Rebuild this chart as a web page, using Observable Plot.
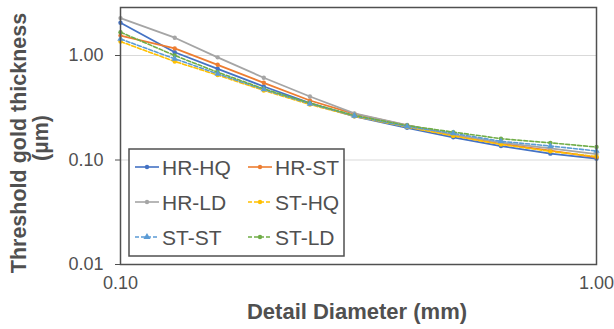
<!DOCTYPE html>
<html>
<head>
<meta charset="utf-8">
<script src="https://cdn.jsdelivr.net/npm/d3@7"></script>
<script src="https://cdn.jsdelivr.net/npm/@observablehq/plot@0.6"></script>
<style>
  body { margin: 0; background: #fff; }
  #chart { width: 614px; height: 329px; }
</style>
</head>
<body>
<div id="chart"></div>
<script>
// ---- data ----
const diameters = [0.10, 0.13, 0.16, 0.20, 0.25, 0.31, 0.40, 0.50, 0.63, 0.80, 1.00];
const seriesNames = ["HR-HQ", "HR-ST", "HR-LD", "ST-HQ", "ST-ST", "ST-LD"];
const hrHQ = [2.06, 1.075, 0.746, 0.505, 0.350, 0.262, 0.203, 0.165, 0.136, 0.115, 0.103];
const hrST = [1.55, 1.17, 0.815, 0.548, 0.371, 0.276, 0.214, 0.172, 0.143, 0.123, 0.106];
const hrLD = [2.28, 1.48, 0.96, 0.612, 0.405, 0.279, 0.216, 0.175, 0.147, 0.129, 0.114];
const stHQ = [1.36, 0.877, 0.65, 0.463, 0.340, 0.262, 0.207, 0.170, 0.141, 0.121, 0.108];
const stST = [1.44, 0.93, 0.668, 0.473, 0.345, 0.265, 0.209, 0.180, 0.151, 0.136, 0.122];
const stLD = [1.67, 1.00, 0.692, 0.480, 0.350, 0.267, 0.214, 0.185, 0.160, 0.146, 0.133];
const xTicks = [0.1, 1];
const yTicks = [0.01, 0.1, 1];
const xTitle = "Detail Diameter (mm)";
const yTitle = ["Threshold gold thickness", "(µm)"];

const colors = ["#4472C4", "#ED7D31", "#A5A5A5", "#FFC000", "#5B9BD5", "#70AD47"];
const dashed = [false, false, false, true, true, true];
const symbols = ["circle", "circle", "circle", "circle", "triangle", "circle"];
const allValues = [hrHQ, hrST, hrLD, stHQ, stST, stLD];

const rows = [];
seriesNames.forEach((s, i) => {
  diameters.forEach((d, j) => rows.push({series: s, d, v: allValues[i][j], dashed: dashed[i]}));
});

const textColor = "#505050";
const color = {domain: seriesNames, range: colors};

const plot = Plot.plot({
  width: 614,
  height: 329,
  marginLeft: 120,
  marginRight: 18,
  marginTop: 7,
  marginBottom: 65,
  style: {fontFamily: "'Liberation Sans', Arial, sans-serif", fontSize: "18px", color: textColor, background: "#fff"},
  x: {type: "log", domain: [0.1, 1]},
  y: {type: "log", domain: [0.01, 2.88]},
  color,
  marks: [
    Plot.gridY(yTicks.slice(1), {stroke: "#d9d9d9", strokeOpacity: 1, strokeWidth: 1}),
    Plot.axisY(yTicks, {tickFormat: d3.format(".2f"), tickSize: 5, tickPadding: 12, stroke: textColor, fill: textColor, label: null, fontSize: 18}),
    Plot.axisX(xTicks, {tickFormat: d3.format(".2f"), tickSize: 0, tickPadding: 12, fill: textColor, label: null, fontSize: 18}),
    Plot.lineY(rows.filter(r => !r.dashed), {x: "d", y: "v", z: "series", stroke: "series", strokeWidth: 1.8}),
    Plot.lineY(rows.filter(r => r.dashed), {x: "d", y: "v", z: "series", stroke: "series", strokeWidth: 1.6, strokeDasharray: "4,2"}),
    Plot.dot(rows.filter(r => r.series !== "ST-ST"), {x: "d", y: "v", fill: "series", r: 2.2}),
    Plot.dot(rows.filter(r => r.series === "ST-ST"), {x: "d", y: "v", fill: "series", symbol: "triangle", r: 2.4}),
    Plot.frame({stroke: textColor, strokeWidth: 1.5})
  ]
});

document.getElementById("chart").appendChild(plot);

const svg = d3.select(plot);
// axis titles
svg.append("text")
  .attr("x", 357).attr("y", 319)
  .attr("text-anchor", "middle")
  .attr("font-weight", "bold").attr("font-size", 22)
  .attr("fill", textColor)
  .text(xTitle);
const yt = svg.append("text")
  .attr("transform", "translate(18,143) rotate(-90)")
  .attr("text-anchor", "middle")
  .attr("font-weight", "bold").attr("font-size", 21.5)
  .attr("fill", textColor);
yt.append("tspan").attr("x", 0).attr("dy", "0.35em").text(yTitle[0]);
yt.append("tspan").attr("x", 5).attr("dy", "1.05em").text(yTitle[1]);

// legend
const lg = svg.append("g").attr("text-anchor", "start");
lg.append("rect").attr("x", 129).attr("y", 149).attr("width", 215).attr("height", 107)
  .attr("fill", "#fff").attr("stroke", textColor).attr("stroke-width", 1.5);
seriesNames.forEach((s, i) => {
  const col = i % 2, row = Math.floor(i / 2);
  const x0 = col === 0 ? 135 : 248;
  const y0 = 167 + row * 35;
  lg.append("line").attr("x1", x0).attr("x2", x0 + 24).attr("y1", y0).attr("y2", y0)
    .attr("stroke", colors[i]).attr("stroke-width", 1.6)
    .attr("stroke-dasharray", dashed[i] ? "4,2" : null);
  if (symbols[i] === "triangle") {
    lg.append("path").attr("d", d3.symbol(d3.symbolTriangle, 22)()).attr("transform", `translate(${x0 + 12},${y0})`).attr("fill", colors[i]);
  } else {
    lg.append("circle").attr("cx", x0 + 12).attr("cy", y0).attr("r", 2.2).attr("fill", colors[i]);
  }
  lg.append("text").attr("x", x0 + 27).attr("y", y0).attr("dy", "0.36em")
    .attr("text-anchor", "start")
    .attr("font-size", 21).attr("fill", textColor).text(s);
});
</script>
</body>
</html>
